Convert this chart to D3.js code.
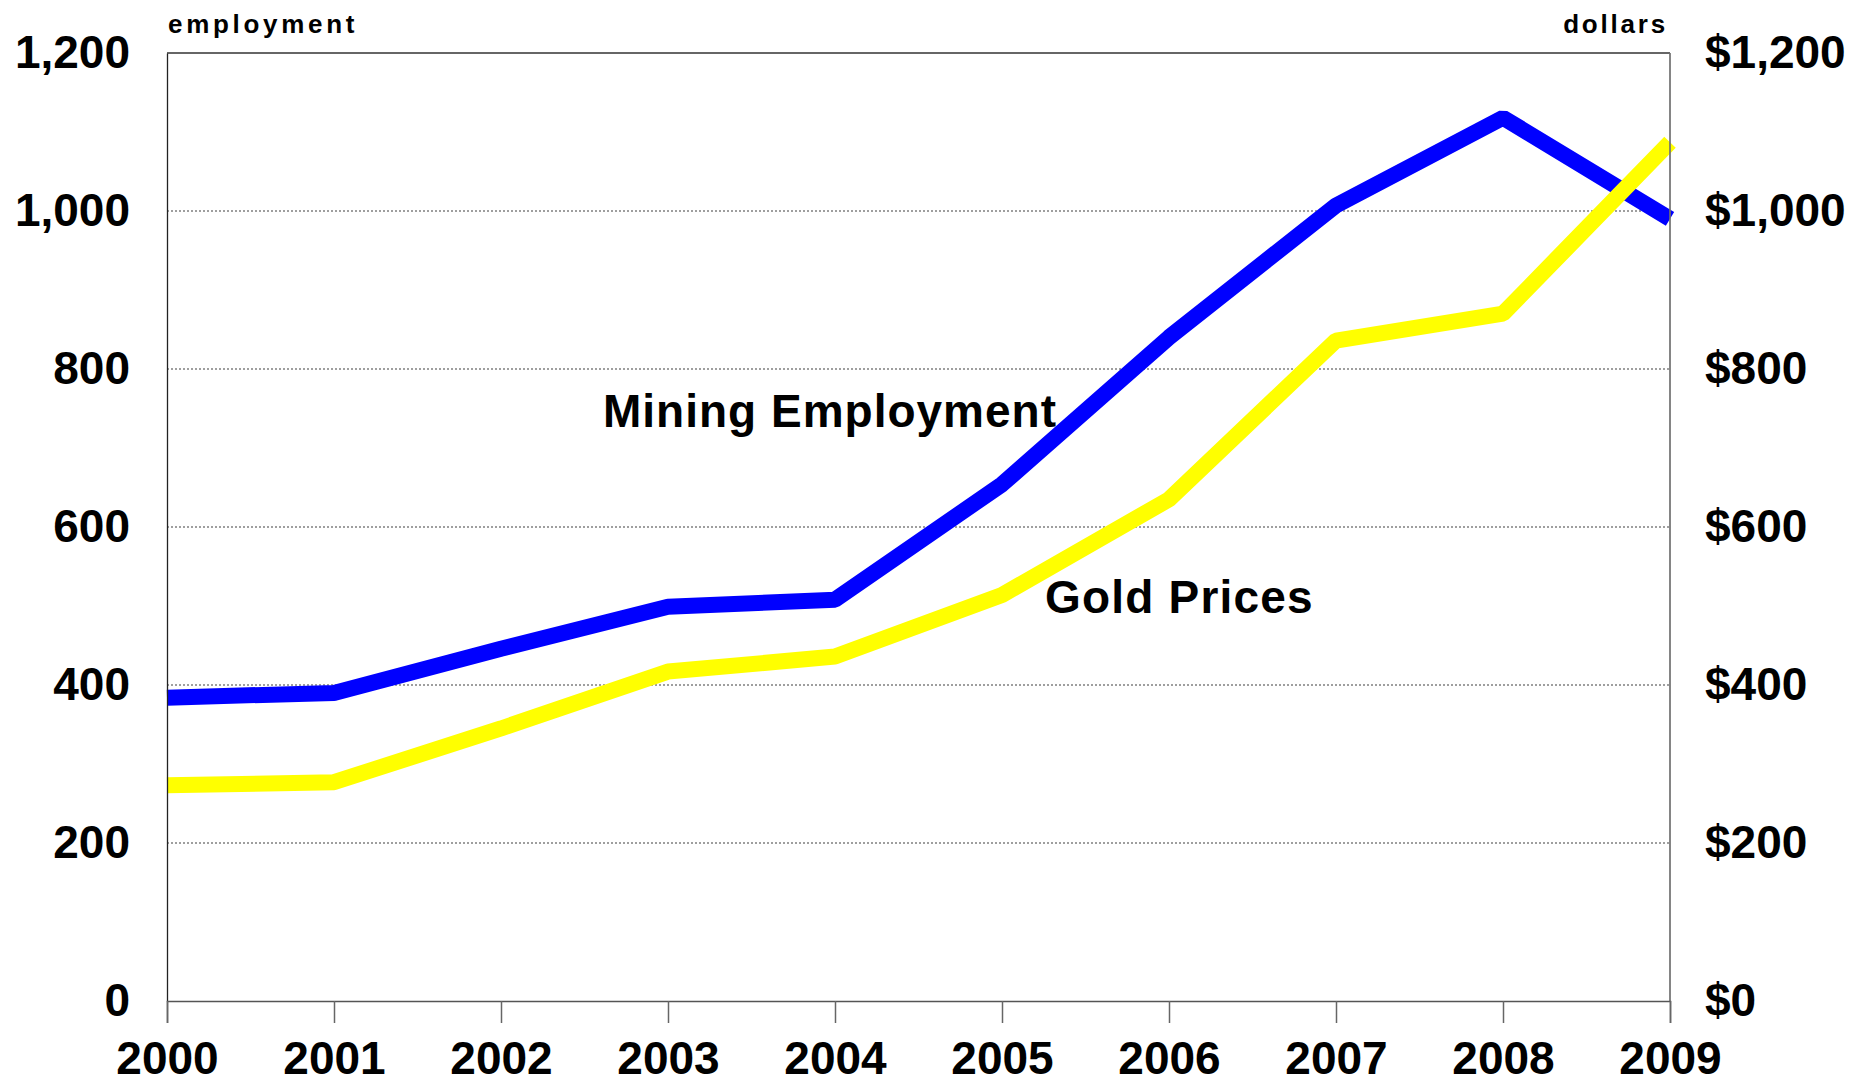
<!DOCTYPE html>
<html>
<head>
<meta charset="utf-8">
<script src="https://cdn.jsdelivr.net/npm/d3@7"></script>
<style>
  body { margin: 0; background: #fff; }
  text { font-family: "Liberation Sans", Arial, sans-serif; font-weight: bold; fill: #000; }
</style>
</head>
<body>
<div id="viz"></div>
<script>
// values
var years = [2000, 2001, 2002, 2003, 2004, 2005, 2006, 2007, 2008, 2009];
var employment = [384, 390, 446, 499, 508, 654, 840, 1007, 1118, 990];
var goldPrices = [273, 277, 345, 417, 436, 514, 635, 836, 870, 1087];
var yTicks = [0, 200, 400, 600, 800, 1000, 1200];

var width = 1872, height = 1084,
    margin = { top: 53, right: 202, bottom: 83, left: 167 };

var svg = d3.select('#viz').append('svg')
  .attr('width', width)
  .attr('height', height);

var x = d3.scaleLinear()
  .domain([years[0], years[years.length - 1]])
  .range([margin.left, width - margin.right]);

var yLeft = d3.scaleLinear()
  .domain([0, 1200])
  .range([height - margin.bottom, margin.top]);

var yRight = d3.scaleLinear()
  .domain([0, 1200])
  .range([height - margin.bottom, margin.top]);

// dotted gridlines
svg.append('g').selectAll('line')
  .data(yTicks.filter(function(d) { return d > 0 && d < 1200; }))
  .enter().append('line')
    .attr('x1', x.range()[0])
    .attr('x2', x.range()[1])
    .attr('y1', function(d) { return yLeft(d); })
    .attr('y2', function(d) { return yLeft(d); })
    .attr('stroke', '#808080')
    .attr('stroke-width', 1.4)
    .attr('stroke-dasharray', '2,2');

// series lines
var line = function(vals, scale) {
  return d3.line()
    .x(function(d, i) { return x(years[i]); })
    .y(function(d) { return scale(d); })(vals);
};

svg.append('path')
  .attr('d', line(employment, yLeft))
  .attr('fill', 'none')
  .attr('stroke', '#0000ff')
  .attr('stroke-width', 16)
  .attr('stroke-linejoin', 'bevel');

svg.append('path')
  .attr('d', line(goldPrices, yRight))
  .attr('fill', 'none')
  .attr('stroke', '#ffff00')
  .attr('stroke-width', 16)
  .attr('stroke-linejoin', 'bevel');

// frame
svg.append('line')
  .attr('x1', x.range()[0]).attr('x2', x.range()[1])
  .attr('y1', margin.top).attr('y2', margin.top)
  .attr('stroke', '#333').attr('stroke-width', 1.3);
svg.append('line')
  .attr('x1', x.range()[1]).attr('x2', x.range()[1])
  .attr('y1', margin.top).attr('y2', height - margin.bottom)
  .attr('stroke', '#707070').attr('stroke-opacity', 0.85).attr('stroke-width', 2);

// axes
var leftAxis = svg.append('g')
  .attr('transform', 'translate(' + margin.left + ',0)')
  .call(d3.axisLeft(yLeft).tickValues(yTicks).tickSize(0).tickPadding(37).tickFormat(d3.format(',')));
leftAxis.select('.domain').attr('stroke', '#222').attr('stroke-width', 1.3);

var rightAxis = svg.append('g')
  .attr('transform', 'translate(' + (width - margin.right) + ',0)')
  .call(d3.axisRight(yRight).tickValues(yTicks).tickSize(0).tickPadding(35).tickFormat(d3.format('$,')));
rightAxis.select('.domain').remove();

var bottomAxis = svg.append('g')
  .attr('transform', 'translate(0,' + (height - margin.bottom) + ')')
  .call(d3.axisBottom(x).tickValues(years).tickSize(22).tickPadding(18).tickFormat(d3.format('d')));
bottomAxis.select('.domain').attr('stroke', '#555').attr('stroke-width', 1.5);
bottomAxis.selectAll('.tick line').attr('stroke', '#666').attr('stroke-width', 1.5);

svg.selectAll('.tick text')
  .style('font-size', '46px')
  .style('font-family', '"Liberation Sans", Arial, sans-serif')
  .style('font-weight', 'bold')
  .attr('fill', '#000');

// unit labels
svg.append('text')
  .attr('x', margin.left + 1)
  .attr('y', 33)
  .style('font-size', '26px')
  .style('letter-spacing', '3.7px')
  .text('employment');

svg.append('text')
  .attr('x', width - margin.right - 2)
  .attr('y', 33)
  .attr('text-anchor', 'end')
  .style('font-size', '26px')
  .style('letter-spacing', '2.8px')
  .text('dollars');

// series annotations
svg.append('text')
  .attr('x', 1057)
  .attr('y', 427)
  .attr('text-anchor', 'end')
  .style('font-size', '46px')
  .style('letter-spacing', '1px')
  .text('Mining Employment');

svg.append('text')
  .attr('x', 1045)
  .attr('y', 613)
  .style('font-size', '46px')
  .style('letter-spacing', '1.2px')
  .text('Gold Prices');
</script>
</body>
</html>
